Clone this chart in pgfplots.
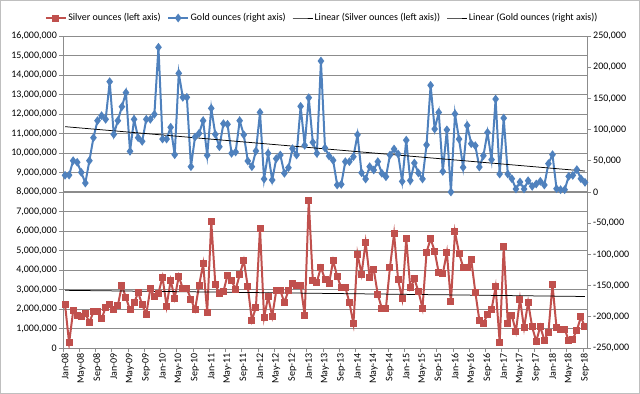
\documentclass[border=0pt]{standalone}
\usepackage{fontspec}
\setmainfont{Carlito}
\usepackage{pgfplots}
\usepackage{pgfplotstable}
\pgfplotsset{compat=1.18}
\definecolor{silv}{HTML}{C0504D}
\definecolor{goldc}{HTML}{4F81BD}
\definecolor{gridc}{RGB}{140,140,140}

\pgfplotstableread{
i silver gold
0 2240000 26800
1 260000 27000
2 1900000 50200
3 1680000 47600
4 1620000 31500
5 1760000 14400
6 1320000 50200
7 1850000 87000
8 1850000 114300
9 1490000 122300
10 2090000 116500
11 2240000 176800
12 1970000 92400
13 2190000 114300
14 3200000 136700
15 2580000 159200
16 1950000 65200
17 2310000 116500
18 2850000 87000
19 2210000 81200
20 1740000 116500
21 3030000 116500
22 2650000 124500
23 2820000 231900
24 3640000 84900
25 2140000 84900
26 3470000 103700
27 2560000 59800
28 3680000 190200
29 3040000 151700
30 3040000 151700
31 2510000 40600
32 1950000 88100
33 3200000 94000
34 4310000 114300
35 1830000 58800
36 6480000 134100
37 3260000 92400
38 2800000 72600
39 2890000 109500
40 3740000 108500
41 3470000 62000
42 2990000 64100
43 3760000 114300
44 4500000 91800
45 3130000 49700
46 1420000 40600
47 2090000 65700
48 6150000 127700
49 1570000 20800
50 2620000 62000
51 1620000 19200
52 2940000 53400
53 2940000 59300
54 2340000 30000
55 2940000 39000
56 3300000 69400
57 3200000 59300
58 3200000 137300
59 1680000 74800
60 7560000 151100
61 3470000 79600
62 3380000 62000
63 4150000 209900
64 3500000 70500
65 3300000 57700
66 4480000 50800
67 3680000 11200
68 3080000 12300
69 3110000 48600
70 2340000 48600
71 1250000 56600
72 4820000 91800
73 3790000 30900
74 5420000 20800
75 3620000 40600
76 4020000 35300
77 2740000 48600
78 2030000 30000
79 2050000 24500
80 4150000 59300
81 5860000 68900
82 3500000 60900
83 2520000 17000
84 5610000 83000
85 3080000 18500
86 3540000 46500
87 2910000 30500
88 2050000 21000
89 4910000 75500
90 5610000 171000
91 4960000 101000
92 3850000 127600
93 3810000 33000
94 4910000 99600
95 2360000 0
96 5950000 125200
97 4870000 84800
98 4150000 39500
99 4150000 106700
100 4530000 77400
101 2870000 74200
102 1420000 40000
103 1280000 58200
104 1710000 95500
105 1970000 51800
106 3130000 148900
107 290000 28800
108 5180000 118500
109 1280000 28800
110 1660000 21300
111 850000 4800
112 2510000 16000
113 1030000 4800
114 2340000 18100
115 1080000 9100
116 340000 12800
117 1110000 17100
118 390000 11200
119 820000 45400
120 3250000 59800
121 1030000 5300
122 970000 3700
123 970000 3700
124 380000 25100
125 460000 26700
126 910000 35800
127 1590000 21300
128 1080000 15500
}\datatable

\begin{document}
\begin{tikzpicture}
\pgfplotsset{
  common/.style={
    width=524bp, height=312bp, scale only axis,
    at={(0,0)}, anchor=south west,
    xmin=-0.5, xmax=128.5,
    font=\fontsize{10bp}{12bp}\selectfont,
    /pgf/number format/assume math mode=true,
    tick align=outside,
    major tick length=4bp, minor tick length=4bp,
    tick style={gridc, line width=0.75bp},
    axis line style={gridc, line width=0.75bp},
    scaled y ticks=false,
    yticklabel style={/pgf/number format/fixed, /pgf/number format/precision=0, /pgf/number format/1000 sep={,}, inner sep=2bp},
  },
  legend image code/.code={\draw[mark repeat=2,mark phase=2] plot coordinates {(0bp,0bp)(10bp,0bp)(20bp,0bp)};},
}
\begin{axis}[common,
  ymin=0, ymax=16000000, ytick distance=1000000,
  axis x line*=bottom, axis y line*=left,
  ymajorgrids, grid style={gridc, line width=0.75bp},
  xtick={0,4,...,128},
  xticklabels={Jan-08,May-08,Sep-08,Jan-09,May-09,Sep-09,Jan-10,May-10,Sep-10,Jan-11,May-11,Sep-11,Jan-12,May-12,Sep-12,Jan-13,May-13,Sep-13,Jan-14,May-14,Sep-14,Jan-15,May-15,Sep-15,Jan-16,May-16,Sep-16,Jan-17,May-17,Sep-17,Jan-18,May-18,Sep-18},
  xticklabel style={rotate=90, anchor=east, inner sep=1bp},
  major x tick style={draw=none},
  minor xtick={-0.5,3.5,...,128.5},
]
\addplot[silv, line width=2bp, mark=square*, mark size=2.5bp, mark options={solid}] table[x=i, y=silver] {\datatable};
\addplot[black, line width=0.75bp] table[x=i, y={create col/linear regression={y=silver}}] {\datatable};
\end{axis}
\begin{axis}[common,
  ymin=-250000, ymax=250000, ytick distance=50000,
  axis y line*=right, axis x line=none,
  extra y ticks={0}, extra y tick labels={},
  extra y tick style={grid=major, grid style={gridc, line width=1.5bp}, major tick length=0pt},
  legend style={at={(0.494,1)}, anchor=center, yshift=18bp, draw=none, fill=none,
    legend columns=4, font=\fontsize{10bp}{12bp}\selectfont,
    nodes={inner sep=1.5bp},
    /tikz/every even column/.append style={column sep=5bp}},
  legend cell align=left,
]
\addlegendimage{silv, line width=2bp, mark=square*, mark size=2.5bp, mark options={solid}}
\addlegendentry{Silver ounces (left axis)}
\addplot[goldc, line width=2bp, mark=diamond*, mark size=2.8bp, mark options={solid}] table[x=i, y=gold] {\datatable};
\addlegendentry{Gold ounces (right axis)}
\addlegendimage{black, line width=0.75bp}
\addlegendentry{Linear (Silver ounces (left axis))}
\addplot[black, line width=0.75bp] table[x=i, y={create col/linear regression={y=gold}}] {\datatable};
\addlegendentry{Linear (Gold ounces (right axis))}
\end{axis}
\draw[gray!50, line width=0.75bp] (-62.6bp,-45.6bp) rectangle (576.6bp,347.6bp);
\pgfresetboundingbox
\path[use as bounding box] (-63bp,-46bp) rectangle (577bp,348bp);
\end{tikzpicture}
\end{document}
